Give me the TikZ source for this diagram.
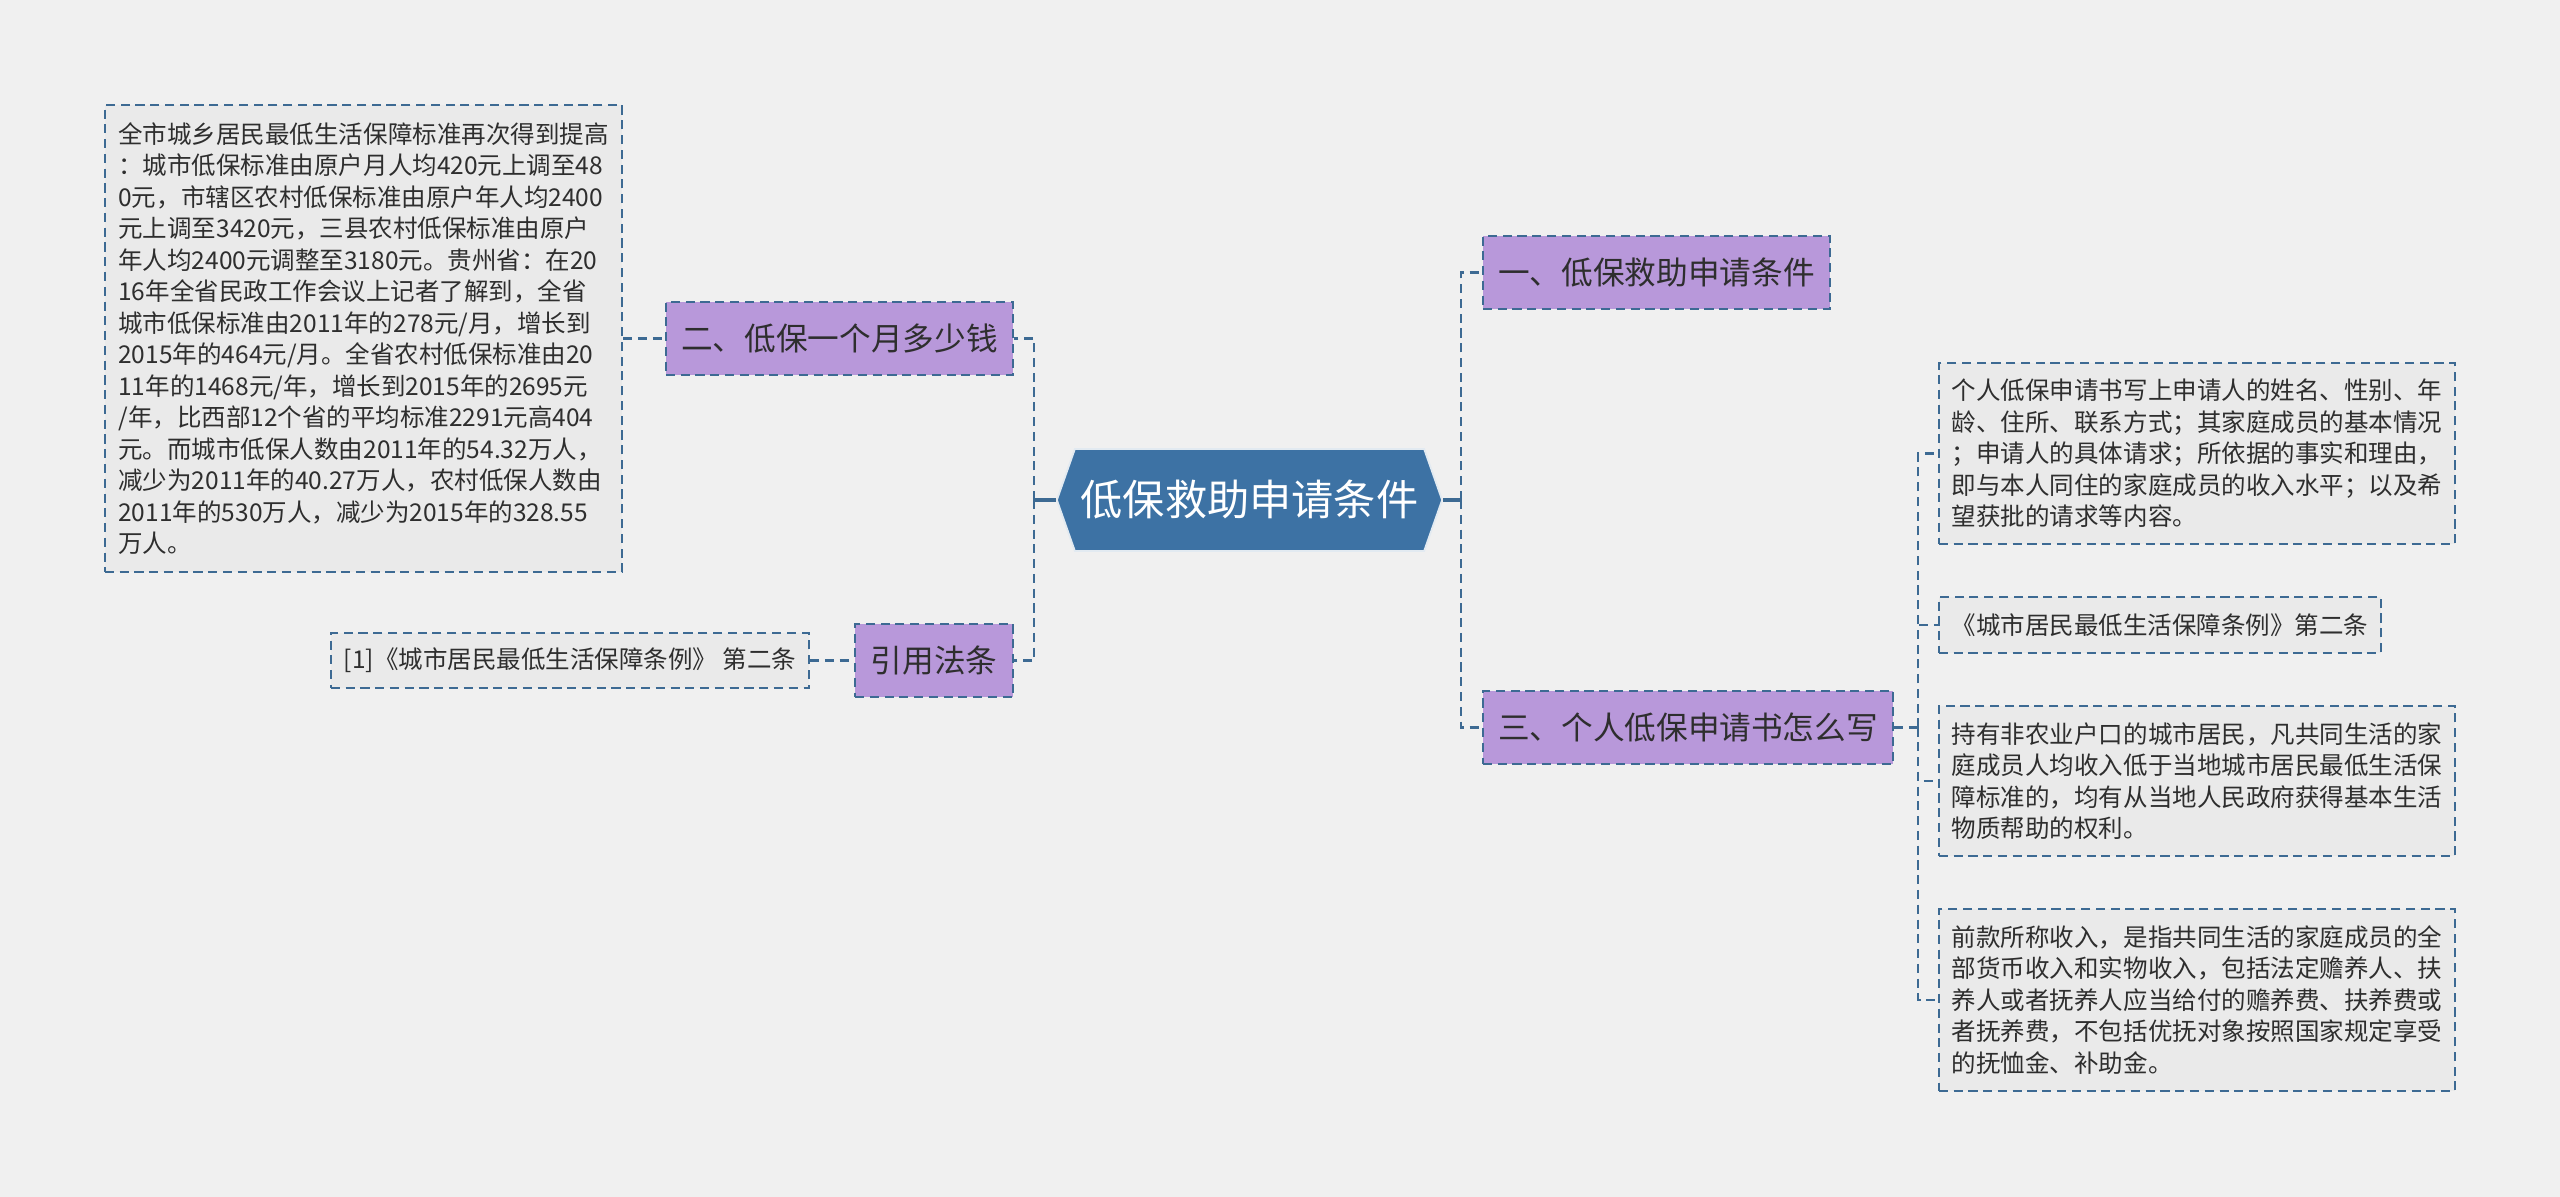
\documentclass[tikz,border=0pt]{standalone}
\usepackage{fontspec}
\setmainfont{Noto Sans CJK SC}

\definecolor{bgcol}{HTML}{F0F0F0}
\definecolor{linecol}{HTML}{3D6A93}
\definecolor{rootcol}{HTML}{3D72A4}
\definecolor{topiccol}{HTML}{B898DA}
\definecolor{leafcol}{HTML}{EAEAEA}
\definecolor{txtcol}{HTML}{2E2E2E}

\tikzset{
  link/.style={draw=linecol, line width=0.6pt, dash pattern=on 2.6pt off 1.6pt},
  rootlink/.style={draw=linecol, line width=0.9pt},
  topic/.style={draw=linecol, line width=0.6pt, dash pattern=on 2.6pt off 1.6pt,
    fill=topiccol, text=txtcol, inner sep=0pt, minimum height=0.73cm,
    font=\fontsize{9pt}{11pt}\selectfont},
  leaf/.style={draw=linecol, line width=0.6pt, dash pattern=on 2.6pt off 1.6pt,
    fill=leafcol, text=txtcol, inner sep=0pt, align=left,
    font=\fontsize{6.97pt}{8.96pt}\selectfont},
  rootbox/.style={fill=bgcol, inner sep=0pt, text=white,
    minimum width=3.85cm, minimum height=1.02cm,
    font=\fontsize{12pt}{14pt}\selectfont,
    path picture={\filldraw[fill=rootcol, draw=white!85!rootcol, line width=0.5pt]
      (path picture bounding box.west)
      -- ([xshift=0.18cm]path picture bounding box.north west)
      -- ([xshift=-0.18cm]path picture bounding box.north east)
      -- (path picture bounding box.east)
      -- ([xshift=-0.18cm]path picture bounding box.south east)
      -- ([xshift=0.18cm]path picture bounding box.south west) -- cycle;}}
}

\begin{document}
\begin{tikzpicture}[x=0.01cm, y=-0.01cm]
  % Background
  \useasboundingbox (0,0) rectangle (2560,1197);
  \fill[bgcol] (0,0) rectangle (2560,1197);

  % Root
  \node[rootbox] (root) at (1249.5,500) {低保救助申请条件};

  % Left branches
  \node[topic, minimum width=3.47cm] (q2) at (839.5,338.5) {二、低保一个月多少钱};
  \node[topic, minimum width=1.58cm] (law) at (934,660.5) {引用法条};

  \node[leaf, minimum width=5.17cm, minimum height=4.67cm] (big) at (363.5,338.5)
    {全市城乡居民最低生活保障标准再次得到提高\\
     ：城市低保标准由原户月人均420元上调至48\\
     0元，市辖区农村低保标准由原户年人均2400\\
     元上调至3420元，三县农村低保标准由原户\\
     年人均2400元调整至3180元。贵州省：在20\\
     16年全省民政工作会议上记者了解到，全省\\
     城市低保标准由2011年的278元/月，增长到\\
     2015年的464元/月。全省农村低保标准由20\\
     11年的1468元/年，增长到2015年的2695元\\
     /年，比西部12个省的平均标准2291元高404\\
     元。而城市低保人数由2011年的54.32万人，\\
     减少为2011年的40.27万人，农村低保人数由\\
     2011年的530万人，减少为2015年的328.55\\
     万人。};
  \node[leaf, minimum width=4.78cm, minimum height=0.55cm] (ref) at (570,660.5)
    {[1]《城市居民最低生活保障条例》 第二条};

  % Right branches
  \node[topic, minimum width=3.47cm] (q1) at (1656.5,272.5) {一、低保救助申请条件};
  \node[topic, minimum width=4.10cm] (q3) at (1688,727.5) {三、个人低保申请书怎么写};

  \node[leaf, minimum width=5.16cm, minimum height=1.81cm] (leafA) at (2197,453.5)
    {个人低保申请书写上申请人的姓名、性别、年\\
     龄、住所、联系方式；其家庭成员的基本情况\\
     ；申请人的具体请求；所依据的事实和理由，\\
     即与本人同住的家庭成员的收入水平；以及希\\
     望获批的请求等内容。};
  \node[leaf, minimum width=4.42cm, minimum height=0.56cm] (leafB) at (2160,625)
    {《城市居民最低生活保障条例》第二条};
  \node[leaf, minimum width=5.16cm, minimum height=1.50cm] (leafC) at (2197,781)
    {持有非农业户口的城市居民，凡共同生活的家\\
     庭成员人均收入低于当地城市居民最低生活保\\
     障标准的，均有从当地人民政府获得基本生活\\
     物质帮助的权利。};
  \node[leaf, minimum width=5.16cm, minimum height=1.82cm] (leafD) at (2197,1000)
    {前款所称收入，是指共同生活的家庭成员的全\\
     部货币收入和实物收入，包括法定赡养人、扶\\
     养人或者抚养人应当给付的赡养费、扶养费或\\
     者抚养费，不包括优抚对象按照国家规定享受\\
     的抚恤金、补助金。};

  % Connectors, left
  \draw[rootlink] (root.west) -- ++(-22,0) coordinate (lspine);
  \draw[link] (lspine) |- (q2.east);
  \draw[link] (lspine) |- (law.east);
  \draw[link] (big.east) -- (q2.west);
  \draw[link] (ref.east) -- (law.west);

  % Connectors, right
  \draw[rootlink] (root.east) -- ++(18,0) coordinate (rspine);
  \draw[link] (rspine) |- (q1.west);
  \draw[link] (rspine) |- (q3.west);
  \draw[link] (q3.east) -- ++(24,0) coordinate (q3spine);
  \draw[link] (q3spine) |- (leafA.west);
  \draw[link] (q3spine) |- (leafB.west);
  \draw[link] (q3spine) |- (leafC.west);
  \draw[link] (q3spine) |- (leafD.west);
\end{tikzpicture}
\end{document}
